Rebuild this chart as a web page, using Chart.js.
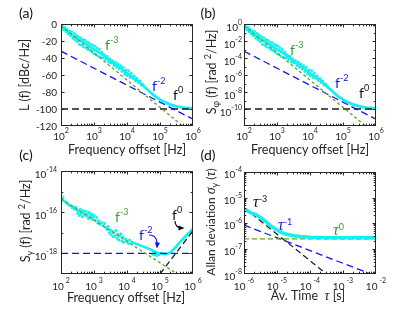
<!DOCTYPE html>
<html><head><meta charset="utf-8">
<script src="https://cdn.jsdelivr.net/npm/chart.js@4"></script>
<style>
html,body{margin:0;padding:0;background:#fff;}
#wrap{position:relative;width:415px;height:312px;background:#fff;}
canvas{position:absolute;left:0;top:0;}
</style></head><body><div id="wrap">
<canvas id="ca" width="415" height="312"></canvas>
<canvas id="cb" width="415" height="312"></canvas>
<canvas id="cc" width="415" height="312"></canvas>
<canvas id="cd" width="415" height="312"></canvas>
</div>
<script>
// ---------- DATA ----------
// Panel (a): phase noise L(f) [dBc/Hz]
const aTrendF = [100,150,200,300,500,700,1000,1500,2000,3000,5000,7000,1e4,2e4,3e4,5e4,7e4,1e5,1.5e5,2e5,3e5,5e5,7e5,1e6];
const aTrendL = [-3,-8,-12,-17,-22,-26,-30,-34,-37,-43,-49,-53,-58,-66,-72,-80,-85,-89,-92.5,-94.5,-96.5,-98.5,-99,-99];
const aNoiseF = [110,120,130,140,150,165,180,195,210,230,250,270,290,310,330,360,390,420,450,480,520,560,600,650,700,750,800,860,920,990,1060,1140,1230,1330,1450,1580,1720,1880,2050,2250,2500,2750,3000,3300,3600,4000,4400,4800,5300,5800,6400,7000,7700,8500,9300,10200,11200,12300,13500,15000,16500,18000,20000,22000,24500,27000,30000];
const aNoiseL = [-2,-7,-4,-9,-6,-12,-8,-14,-9,-17,-11,-19,-13,-21,-15,-24,-16,-25,-18,-27,-19,-28,-21,-30,-22,-31,-24,-33,-25,-35,-26,-36,-28,-38,-30,-39,-33,-40,-36,-42,-38,-45,-41,-46,-43,-49,-45,-51,-47,-53,-49,-56,-51,-59,-54,-61,-55,-63,-58,-64,-61,-67,-64,-69,-67,-72,-71];
const aGreenF = [1e2,1e6], aGreenL = [-2,-130];
const aBlueF  = [1e2,1e6], aBlueL  = [-32,-112];
const aBlackF = [1e2,1e6], aBlackL = [-100,-100];
const aXTicks = [1e2,1e3,1e4,1e5,1e6], aXTickLabels = ['2','3','4','5','6'];
const aYTicks = [-120,-100,-80,-60,-40,-20,0], aYTickLabels = ['-120','-100','-80','-60','-40','-20','0'];

// Panel (b): S_phi(f) [rad^2/Hz]
const bTrendF = aTrendF;
const bTrendS = [0.5,0.158,0.063,0.02,6.3e-3,2.5e-3,1e-3,4e-4,2e-4,5e-5,1.26e-5,5e-6,1.58e-6,2.5e-7,6.3e-8,1e-8,3.16e-9,1.26e-9,5.6e-10,3.5e-10,2.2e-10,1.4e-10,1.26e-10,1.26e-10];
const bNoiseF = aNoiseF;
const bNoiseS = [0.63,0.2,0.4,0.126,0.25,0.063,0.158,0.04,0.126,0.02,0.079,0.0126,0.05,0.0079,0.0316,0.004,0.025,0.00316,0.0158,0.002,0.0126,0.00158,0.0079,0.001,0.0063,7.9e-4,0.004,5e-4,0.00316,3.16e-4,0.0025,2.5e-4,0.00158,1.58e-4,0.001,1.26e-4,5e-4,1e-4,2.5e-4,6.3e-5,1.58e-4,3.16e-5,7.9e-5,2.5e-5,5e-5,1.26e-5,3.16e-5,7.9e-6,2e-5,5e-6,1.26e-5,2.5e-6,7.9e-6,1.26e-6,4e-6,7.9e-7,3.16e-6,5e-7,1.58e-6,4e-7,7.9e-7,2e-7,4e-7,1.26e-7,2e-7,6.3e-8,7.9e-8];
const bGreenF = [1e2,1e6], bGreenS = [0.63,1e-13];
const bBlueF  = [1e2,1e6], bBlueS  = [6.3e-4,6.3e-12];
const bBlackF = [1e2,1e6], bBlackS = [1e-10,1e-10];
const bYTicks = [1e-10,1e-8,1e-6,1e-4,1e-2,1], bYTickLabels = ['-10','-8','-6','-4','-2','0'];

// Panel (c): S_y(f)
const cNoiseF = [100,105,115,125,140,160,180,200,220,240,260,280,300,320,340,360,380,400,420,450,470,500,530,560,600,640,680,720,760,800,850,900,950,1000,1100,1200,1300,1400,1500,1700,1900,2100,2300,2500,2700,2900,3100,3300,3500,3800,4000,4300,4600,5000,5300,5700,6000,6500,7000,7500,8000,9000,10000,11000,12000,14000,60000,70000,80000,90000];
const cNoiseS = [6.3e-16,4e-16,5e-16,3.5e-16,3e-16,2.5e-16,2.2e-16,2e-16,1.6e-16,1.8e-16,1.4e-16,1.7e-16,1.3e-16,9e-17,1.1e-16,7e-17,1.4e-16,8e-17,1e-16,6e-17,1.2e-16,9e-17,7.5e-17,1.1e-16,6.5e-17,8.5e-17,5e-17,1e-16,7e-17,5.5e-17,8e-17,4.5e-17,6e-17,7e-17,4e-17,5.5e-17,3e-17,3.8e-17,2.6e-17,3.2e-17,2.2e-17,2.8e-17,1.8e-17,1.5e-17,2e-17,1e-17,1.4e-17,8e-18,1.2e-17,6.5e-18,1e-17,7e-18,1.3e-17,5.5e-18,8.5e-18,4.5e-18,7e-18,9e-18,4e-18,6e-18,3.5e-18,5e-18,4e-18,3e-18,4.5e-18,3.5e-18,9e-19,8.5e-19,8e-19,8.5e-19];
const cTrendF = [14000,20000,30000,50000,70000,100000,130000,160000,200000,250000,300000,400000,500000,630000,800000,1000000];
const cTrendS = [3.5e-18,2.8e-18,2.2e-18,1.6e-18,1.2e-18,1e-18,9.3e-19,9.5e-19,1.05e-18,1.5e-18,2e-18,3.5e-18,5e-18,7.5e-18,1.1e-17,1.6e-17];
const cGreenF = [1e2,1e6], cGreenS = [4.5e-16,3.2e-20];
const cBlueF  = [1e2,1e6], cBlueS  = [1e-18,1e-18];
const cBlackF = [1e5,1e6], cBlackS = [1e-19,1.26e-17];
const cYTicks = [1e-18,1e-16,1e-14], cYTickLabels = ['-18','-16','-14'];

// Panel (d): Allan deviation
const dTau   = [1e-6,1.6e-6,2.2e-6,3.2e-6,4.5e-6,6.3e-6,8.9e-6,1.26e-5,1.8e-5,3.2e-5,5e-5,1e-4,3e-4,1e-3,3e-3,1e-2];
const dSigma = [3.6e-6,2.5e-6,2.2e-6,1.6e-6,1.15e-6,7.9e-7,5.75e-7,4.5e-7,3.7e-7,3.16e-7,2.95e-7,2.75e-7,2.65e-7,2.63e-7,2.7e-7,2.63e-7];
const dGreenT = [1e-6,1e-2], dGreenS = [2.4e-7,2.4e-7];
const dBlackT = [1e-6,3.16e-4], dBlackS = [4e-6,1e-8];
const dBlueT  = [1e-6,1e-2], dBlueS  = [8.3e-7,8.3e-9];
const dXTicks = [1e-6,1e-5,1e-4,1e-3,1e-2], dXTickLabels = ['-6','-5','-4','-3','-2'];
const dYTicks = [1e-8,1e-7,1e-6,1e-5,1e-4], dYTickLabels = ['-8','-7','-6','-5','-4'];

// ---------- STYLE ----------
const FAM = 'Lato, "Open Sans", sans-serif';
const SERIF = '"Liberation Serif", "DejaVu Serif", serif';
const CYAN = 'rgb(20,240,240)';
const GREEN = '#5ba12f', GREEN_T = '#3f9a35';
const BLUE = '#1515f0';
const BLACK = '#1a1a1a';

function pts(xs, ys){ return xs.map((x,i)=>({x:x, y:ys[i]})); }
function lineDS(xs, ys, color, width, dash){
  return {data:pts(xs,ys), showLine:true, borderColor:color, borderWidth:width, borderDash:dash||[], pointRadius:0, clip:0, fill:false, borderCapStyle:'butt'};
}
function dotDS(xs, ys, color, r){
  return {data:pts(xs,ys), showLine:false, pointRadius:r, pointBackgroundColor:color, pointBorderWidth:0, borderColor:color, backgroundColor:color, clip:0};
}
function minorLog(lo, hi){
  const out=[];
  for(let d=Math.round(Math.log10(lo)); d<Math.round(Math.log10(hi)); d++){
    for(let m=2;m<=9;m++) out.push(m*Math.pow(10,d));
  }
  return out;
}
function supLab(s, gap){ return [{t:'10', gap:gap||0},{t:s,k:'sup'}]; }

function segFont(sg, size, supSize){
  const s = sg.k ? supSize : (sg.size || size);
  return (sg.i ? 'italic ' : '') + s + 'px ' + (sg.f || FAM);
}
function richText(ctx, segs, x, y, align, size, supSize, raise, color){
  let w = 0;
  for(const sg of segs){ ctx.font = segFont(sg,size,supSize); w += ctx.measureText(sg.t).width + (sg.gap||0); }
  let cx = align==='center' ? x - w/2 : (align==='right' ? x - w : x);
  ctx.textAlign='left'; ctx.textBaseline='alphabetic';
  for(const sg of segs){
    ctx.font = segFont(sg,size,supSize);
    ctx.fillStyle = sg.c || color;
    const dy = sg.k==='sup' ? -raise : (sg.k==='sub' ? size*0.28 : 0);
    ctx.fillText(sg.t, cx, y+dy);
    cx += ctx.measureText(sg.t).width + (sg.gap||0);
  }
}
function arrow(ctx, a){
  ctx.strokeStyle=a.color; ctx.fillStyle=a.color; ctx.lineWidth=1.2; ctx.setLineDash([]);
  ctx.beginPath(); ctx.moveTo(a.from[0],a.from[1]); ctx.quadraticCurveTo(a.ctrl[0],a.ctrl[1],a.to[0],a.to[1]); ctx.stroke();
  const ang = Math.atan2(a.to[1]-a.ctrl[1], a.to[0]-a.ctrl[0]);
  const L=4.5, W=2.6;
  ctx.beginPath();
  ctx.moveTo(a.to[0]+Math.cos(ang)*1.5, a.to[1]+Math.sin(ang)*1.5);
  ctx.lineTo(a.to[0]-Math.cos(ang)*L - Math.sin(ang)*W, a.to[1]-Math.sin(ang)*L + Math.cos(ang)*W);
  ctx.lineTo(a.to[0]-Math.cos(ang)*L + Math.sin(ang)*W, a.to[1]-Math.sin(ang)*L - Math.cos(ang)*W);
  ctx.closePath(); ctx.fill();
}

const DECO = {};
const decoPlugin = {
  id:'deco',
  afterDraw(chart){
    const o = DECO[chart.canvas.id]; if(!o) return;
    const ctx = chart.ctx, a = chart.chartArea, xs = chart.scales.x, ys = chart.scales.y;
    ctx.save();
    ctx.setLineDash([]);
    const L = Math.round(a.left)+0.5, R = Math.round(a.right)-0.5, T = Math.round(a.top)+0.5, B = Math.round(a.bottom)-0.5;
    ctx.strokeStyle='#262626'; ctx.lineWidth=1;
    ctx.strokeRect(L, T, R-L, B-T);
    ctx.beginPath();
    const xt = (vals, len) => vals.forEach(v => { const p = Math.round(xs.getPixelForValue(v))+0.5; if(p<L||p>R) return; ctx.moveTo(p,B); ctx.lineTo(p,B-len); ctx.moveTo(p,T); ctx.lineTo(p,T+len); });
    const yt = (vals, len) => vals.forEach(v => { const p = Math.round(ys.getPixelForValue(v))+0.5; if(p<T||p>B) return; ctx.moveTo(L,p); ctx.lineTo(L+len,p); ctx.moveTo(R,p); ctx.lineTo(R-len,p); });
    xt(o.xMajor, 3); xt(o.xMinor, 1.8); yt(o.yMajor, 3); yt(o.yMinor, 1.8);
    ctx.stroke();
    o.xMajor.forEach((v,i) => richText(ctx, o.xLab[i], xs.getPixelForValue(v), o.xLabY, 'center', 10, 7, 7, '#262626'));
    o.yMajor.forEach((v,i) => richText(ctx, o.yLab[i], o.yLabX, ys.getPixelForValue(v)+o.yLabDy, 'right', 10, 7, 6, '#262626'));
    richText(ctx, o.xTitle, o.xTitlePos[0], o.xTitlePos[1], 'center', 12.5, 9, 5, '#262626');
    ctx.save(); ctx.translate(o.yTitlePos[0], o.yTitlePos[1]); ctx.rotate(-Math.PI/2);
    richText(ctx, o.yTitle, 0, 3.5, 'center', o.yTitleSize||12.5, 9, 5, '#262626');
    ctx.restore();
    richText(ctx, [{t:o.panel}], o.panelPos[0], o.panelPos[1], 'center', 14, 10, 0, '#111');
    (o.notes||[]).forEach(n => richText(ctx, n.segs, n.x, n.y, 'left', n.size||14, n.supSize||9, n.raise||7, n.color));
    (o.arrows||[]).forEach(ar => arrow(ctx, ar));
    ctx.restore();
  }
};

function makeChart(id, pad, xs, ys, datasets){
  return new Chart(document.getElementById(id), {
    type:'scatter',
    data:{datasets:datasets},
    options:{
      responsive:false, animation:false, devicePixelRatio:1,
      layout:{padding:pad},
      events:[],
      plugins:{legend:{display:false}, tooltip:{enabled:false}},
      scales:{ x:Object.assign({display:false}, xs), y:Object.assign({display:false}, ys) }
    },
    plugins:[decoPlugin]
  });
}

const fSup = (s) => [{t:'f'},{t:s,k:'sup'}];
const tauSup = (s) => [{t:'\u03C4', i:true, f:SERIF, size:16},{t:s,k:'sup'}];

// ---------- PANEL (a) ----------
DECO.ca = {
  xMajor:aXTicks, xLab:aXTickLabels.map(s=>supLab(s)), xMinor:minorLog(1e2,1e6), xLabY:140,
  yMajor:aYTicks, yLab:aYTickLabels.map(s=>[{t:s}]), yMinor:[], yLabX:57, yLabDy:3.5,
  xTitle:[{t:'Frequency offset [Hz]'}], xTitlePos:[127,154],
  yTitle:[{t:'L (f) [dBc/Hz]'}], yTitlePos:[25,75],
  panel:'(a)', panelPos:[26,18],
  notes:[
    {segs:fSup('-3'), x:105, y:50, color:GREEN_T},
    {segs:fSup('-2'), x:152, y:91, color:BLUE},
    {segs:fSup('0'),  x:173, y:100, color:'#111'}
  ]
};
makeChart('ca', {left:61, top:24, right:222, bottom:186},
  {type:'logarithmic', min:1e2, max:1e6},
  {type:'linear', min:-120, max:0},
  [
    lineDS(aGreenF, aGreenL, GREEN, 1.3, [3,2.5]),
    lineDS(aBlueF, aBlueL, BLUE, 1.3, [7,4]),
    lineDS(aBlackF, aBlackL, BLACK, 1.3, [7,4]),
    lineDS(aTrendF, aTrendL, CYAN, 2.8),
    dotDS(aNoiseF, aNoiseL, CYAN, 1.4)
  ]);

// ---------- PANEL (b) ----------
DECO.cb = {
  xMajor:aXTicks, xLab:aXTickLabels.map(s=>supLab(s)), xMinor:minorLog(1e2,1e6), xLabY:140,
  yMajor:bYTicks, yLab:bYTickLabels.map(s=>supLab(s)), yMinor:[1e-11,1e-9,1e-7,1e-5,1e-3,1e-1], yLabX:242, yLabDy:6.5,
  xTitle:[{t:'Frequency offset [Hz]'}], xTitlePos:[310,154],
  yTitle:[{t:'S'},{t:'\u03C6',k:'sub'},{t:' (f) [rad '},{t:'2',k:'sup'},{t:'/Hz]'}], yTitlePos:[212,72],
  panel:'(b)', panelPos:[208,18],
  notes:[
    {segs:fSup('-3'), x:290, y:55, color:GREEN_T},
    {segs:fSup('-2'), x:335, y:88, color:BLUE},
    {segs:fSup('0'),  x:359, y:98, color:'#111'}
  ]
};
makeChart('cb', {left:244, top:24, right:39, bottom:186},
  {type:'logarithmic', min:1e2, max:1e6},
  {type:'logarithmic', min:1e-12, max:1},
  [
    lineDS(bGreenF, bGreenS, GREEN, 1.3, [3,2.5]),
    lineDS(bBlueF, bBlueS, BLUE, 1.3, [7,4]),
    lineDS(bBlackF, bBlackS, BLACK, 1.3, [7,4]),
    lineDS(bTrendF, bTrendS, CYAN, 2.8),
    dotDS(bNoiseF, bNoiseS, CYAN, 1.4)
  ]);

// ---------- PANEL (c) ----------
DECO.cc = {
  xMajor:aXTicks, xLab:aXTickLabels.map(s=>supLab(s,2)), xMinor:minorLog(1e2,1e6), xLabY:290,
  yMajor:cYTicks, yLab:cYTickLabels.map(s=>supLab(s)), yMinor:[1e-19,1e-17,1e-15], yLabX:57, yLabDy:6.5,
  xTitle:[{t:'Frequency offset [Hz]'}], xTitlePos:[126,302],
  yTitle:[{t:'S'},{t:'y',k:'sub'},{t:' (f) [rad '},{t:'2',k:'sup'},{t:'/Hz]'}], yTitlePos:[26,221],
  panel:'(c)', panelPos:[26,160],
  notes:[
    {segs:fSup('-3'), x:115, y:222, color:GREEN_T},
    {segs:fSup('-2'), x:139, y:240, color:BLUE},
    {segs:fSup('0'),  x:172, y:220, color:'#111'}
  ],
  arrows:[
    {from:[149,235], ctrl:[158,235], to:[157,247], color:BLUE},
    {from:[175,221], ctrl:[175,228], to:[183,228], color:'#111'}
  ]
};
makeChart('cc', {left:61, top:171, right:222, bottom:38},
  {type:'logarithmic', min:1e2, max:1e6},
  {type:'logarithmic', min:1e-19, max:1e-14},
  [
    lineDS(cGreenF, cGreenS, GREEN, 1.3, [3,2.5]),
    lineDS(cBlueF, cBlueS, BLUE, 1.3, [7,4]),
    lineDS(cBlackF, cBlackS, BLACK, 1.3, [6,3.5]),
    lineDS(cTrendF, cTrendS, CYAN, 2.6),
    dotDS(cNoiseF, cNoiseS, CYAN, 1.5)
  ]);

// ---------- PANEL (d) ----------
DECO.cd = {
  xMajor:dXTicks, xLab:dXTickLabels.map(s=>supLab(s,2)), xMinor:minorLog(1e-6,1e-2), xLabY:290,
  yMajor:dYTicks, yLab:dYTickLabels.map(s=>supLab(s)), yMinor:minorLog(1e-8,1e-4), yLabX:242, yLabDy:6,
  xTitle:[{t:'Av. Time  '},{t:'\u03C4',i:true,f:SERIF,size:14},{t:' [s]'}], xTitlePos:[308,300],
  yTitle:[{t:'Allan deviation '},{t:'\u03C3',i:true,f:SERIF,size:14},{t:'y',k:'sub'},{t:' ('},{t:'\u03C4',i:true,f:SERIF,size:14},{t:')'}], yTitlePos:[211,222], yTitleSize:12,
  panel:'(d)', panelPos:[208,160],
  notes:[
    {segs:tauSup('-3'), x:253, y:207, color:'#111', raise:5},
    {segs:tauSup('-1'), x:278, y:230, color:BLUE, raise:5},
    {segs:tauSup('0'),  x:333, y:235, color:GREEN_T, raise:5}
  ]
};
makeChart('cd', {left:244, top:172, right:39, bottom:38},
  {type:'logarithmic', min:1e-6, max:1e-2},
  {type:'logarithmic', min:1e-8, max:1e-4},
  [
    lineDS(dTau, dSigma, CYAN, 3.5),
    lineDS(dGreenT, dGreenS, GREEN, 1.3, [5,3]),
    lineDS(dBlackT, dBlackS, BLACK, 1.2, [6,3.5]),
    lineDS(dBlueT, dBlueS, BLUE, 1.3, [7,4])
  ]);
</script>
</body></html>
